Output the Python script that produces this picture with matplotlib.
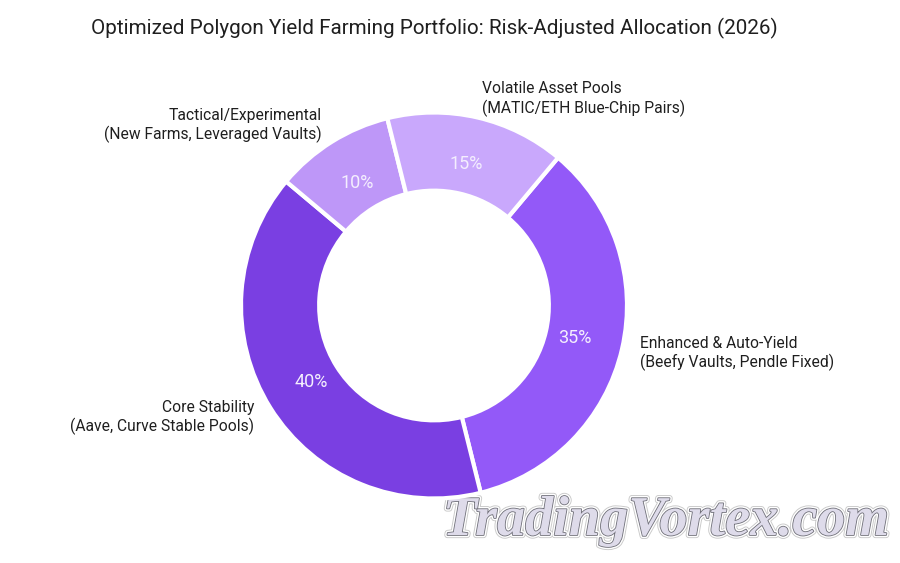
import matplotlib
matplotlib.use("Agg")
import matplotlib.pyplot as plt
import matplotlib.patheffects as pe

plt.rcParams['font.family'] = ['Roboto', 'DejaVu Sans']

title = "Optimized Polygon Yield Farming Portfolio: Risk-Adjusted Allocation (2026)"
# clockwise order starting from the top-right wedge
labels = ["Enhanced & Auto-Yield\n(Beefy Vaults, Pendle Fixed)",
          "Core Stability\n(Aave, Curve Stable Pools)",
          "Tactical/Experimental\n(New Farms, Leveraged Vaults)",
          "Volatile Asset Pools\n(MATIC/ETH Blue-Chip Pairs)"]
values = [35, 40, 10, 15]
colors = ["#9359F8", "#7A3FE2", "#BE97F8", "#C9A8FC"]

fig = plt.figure(figsize=(9, 5.63), dpi=100)
ax = fig.add_axes([0, 0, 1, 1])
ax.set_xlim(0, 900)
ax.set_ylim(563, 0)
ax.axis('off')

inner = fig.add_axes([241 / 900, 1 - 498.5 / 563, 386 / 900, 386 / 563])
wedges, texts, autotexts = inner.pie(
    values, labels=labels, colors=colors, startangle=50, counterclock=False,
    radius=1, autopct='%d%%', pctdistance=0.75, labeldistance=1.098,
    wedgeprops=dict(width=0.405, edgecolor='white', linewidth=3),
    textprops=dict(fontsize=11.25, color='#1f1f1f'))
inner.set_xlim(-1, 1)
inner.set_ylim(-1, 1)
for t in autotexts:
    t.set_color('#f4eefe')
    t.set_fontsize(13)
for t in texts:
    t.set_linespacing(1.22)

ax.text(91, 28, title, fontsize=14.85, color='#1f1f1f', va='center', ha='left')

# watermark
ax.text(666, 521, "TradingVortex.com", fontsize=40.5, family='Liberation Serif', style='italic',
        weight='bold', color='#dedbea', ha='center', va='center',
        path_effects=[pe.withStroke(linewidth=4.5, foreground='#c9c9c9'),
                      pe.withStroke(linewidth=3.2, foreground='white'),
                      pe.withStroke(linewidth=1.2, foreground='#6f6f78')],
        zorder=5)

fig.savefig("out.png", dpi=100)
